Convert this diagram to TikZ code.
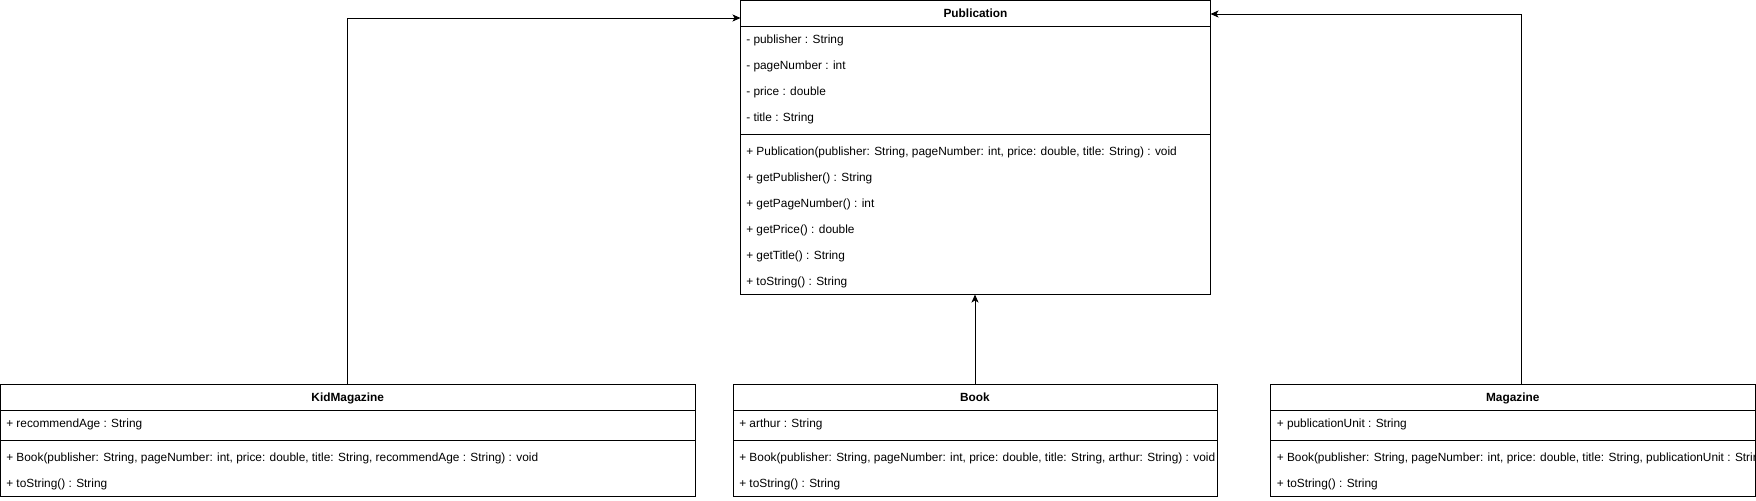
\documentclass[tikz,border=0pt]{standalone}
\usepackage{fontspec}
\setmainfont{Liberation Sans}
\usetikzlibrary{arrows.meta}
\begin{document}
\begin{tikzpicture}[x=0.75pt,y=-0.75pt,
  box/.style={draw=black, line width=0.75pt, inner sep=0pt, outer sep=0pt, anchor=north west},
  row/.style={anchor=base west, inner sep=0pt, yshift=-3.2pt, font=\fontsize{8.9pt}{10pt}\selectfont},
  ttl/.style={anchor=base, inner sep=0pt, yshift=-3.2pt, font=\bfseries\fontsize{8.9pt}{10pt}\selectfont},
  sepline/.style={line width=0.75pt},
  arr/.style={line width=0.75pt, -{Stealth[length=6pt, width=5.25pt, inset=1.5pt]}}]
\useasboundingbox (0,0) rectangle (1756,500);

% Publication
\node[box, minimum width=352.5pt, minimum height=220.5pt] (pub) at (740.5,0.5) {};
\node[ttl] (pubt) at (975.5,13.5) {Publication};
\draw[sepline] (740.5,26.5) -- (1210.5,26.5);
\draw[sepline] (740.5,134.5) -- (1210.5,134.5);
\node[row] (pa1) at (746,39.5) {- publisher : String};
\node[row] (pa2) at (746,65.5) {- pageNumber : int};
\node[row] (pa3) at (746,91.5) {- price : double};
\node[row] (pa4) at (746,117.5) {- title : String};
\node[row] (pm1) at (746,151.5) {+ Publication(publisher: String, pageNumber: int, price: double, title: String) : void};
\node[row] (pm2) at (746,177.5) {+ getPublisher() : String};
\node[row] (pm3) at (746,203.5) {+ getPageNumber() : int};
\node[row] (pm4) at (746,229.5) {+ getPrice() : double};
\node[row] (pm5) at (746,255.5) {+ getTitle() : String};
\node[row] (pm6) at (746,281.5) {+ toString() : String};

% KidMagazine
\node[box, minimum width=520.875pt, minimum height=84pt] (kid) at (0.5,384.5) {};
\node[ttl] (kidt) at (347.75,397.5) {KidMagazine};
\draw[sepline] (0.5,410.5) -- (695,410.5);
\draw[sepline] (0.5,440.5) -- (695,440.5);
\node[row] (ka1) at (6,423.5) {+ recommendAge : String};
\node[row] (km1) at (6,457.5) {+ Book(publisher: String, pageNumber: int, price: double, title: String, recommendAge : String) : void};
\node[row] (km2) at (6,483.5) {+ toString() : String};

% Book
\node[box, minimum width=363pt, minimum height=84pt] (book) at (733,384.5) {};
\node[ttl] (bookt) at (975,397.5) {Book};
\draw[sepline] (733,410.5) -- (1217,410.5);
\draw[sepline] (733,440.5) -- (1217,440.5);
\node[row] (ba1) at (739,423.5) {+ arthur : String};
\node[row] (bm1) at (739,457.5) {+ Book(publisher: String, pageNumber: int, price: double, title: String, arthur: String) : void};
\node[row] (bm2) at (739,483.5) {+ toString() : String};

% Magazine
\node[box, minimum width=363.375pt, minimum height=84pt] (mag) at (1270.5,384.5) {};
\node[ttl] (magt) at (1512.75,397.5) {Magazine};
\draw[sepline] (1270.5,410.5) -- (1755,410.5);
\draw[sepline] (1270.5,440.5) -- (1755,440.5);
\node[row] (ma1) at (1276.5,423.5) {+ publicationUnit : String};
\begin{scope}
\clip (1270.5,444.5) rectangle (1755,470.5);
\node[row] (mm1) at (1276.5,457.5) {+ Book(publisher: String, pageNumber: int, price: double, title: String, publicationUnit : String) : void};
\end{scope}
\node[row] (mm2) at (1276.5,483.5) {+ toString() : String};

% connectors
\draw[arr] (kid.north) |- ([yshift=-13.125pt]pub.north west);
\draw[arr] (book.north) -- (book.north |- pub.south);
\draw[arr] ([xshift=6.19pt]mag.north) |- ([yshift=-10.125pt]pub.north east);
\end{tikzpicture}
\end{document}
